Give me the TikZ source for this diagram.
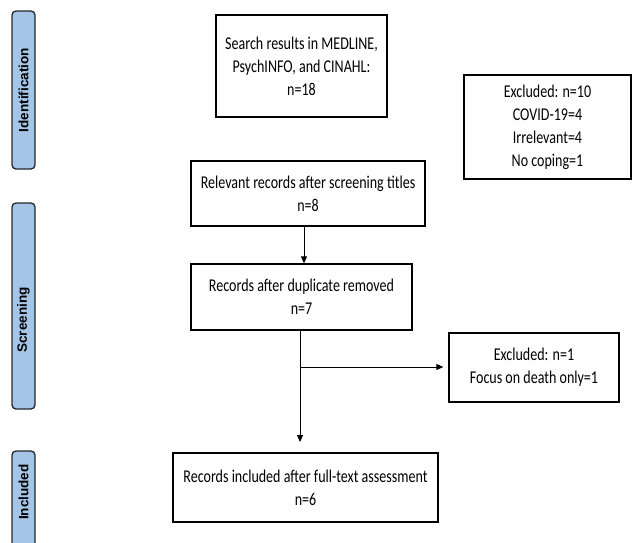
\documentclass[tikz,border=0pt]{standalone}
\usepackage{fontspec}
\setmainfont{Carlito}
\newfontfamily\boxfont[FakeStretch=0.78]{Carlito}
\newfontfamily\labelfont{Liberation Sans}
\usetikzlibrary{arrows.meta}
\definecolor{barblue}{RGB}{164,196,232}
\tikzset{
  flowbox/.style={draw=black, line width=1.3pt, rectangle, align=center, inner sep=0pt,
    font=\boxfont\fontsize{18}{23}\selectfont},
  phasebar/.style={draw=black!85, line width=1.3pt, fill=barblue, rounded corners=4pt},
  phaselabel/.style={rotate=90, font=\labelfont\bfseries\fontsize{13.5}{15}\selectfont},
  flowarrow/.style={line width=0.9pt, -{Triangle[width=6pt,length=7pt]}},
  flowline/.style={line width=0.9pt}
}
\begin{document}
\begin{tikzpicture}[x=1pt,y=-1pt]
\useasboundingbox (0,0) rectangle (632,542);
\clip (0,0) rectangle (632,542);
% phase bars
\draw[phasebar] (12,11) rectangle (35,169);
\node[phaselabel] (lid) at (23.5,90) {Identification};
\draw[phasebar] (12,203) rectangle (35,409);
\node[phaselabel] (lsc) at (23.5,320) {Screening};
\draw[phasebar] (12,451) rectangle (35,570);
\node[phaselabel] (lin) at (23.5,492) {Included};
% boxes
\node[flowbox, minimum width=171pt, minimum height=102pt] (search) at (301.5,66)
  {Search results in MEDLINE,\\PsychINFO, and CINAHL:\\n=18};
\node[flowbox, minimum width=167pt, minimum height=104pt] (exc10) at (547.5,127)
  {Excluded: n=10\\COVID-19=4\\Irrelevant=4\\No coping=1};
\node[flowbox, minimum width=234pt, minimum height=65pt] (relev) at (308,193.5)
  {Relevant records after screening titles\\n=8};
\node[flowbox, minimum width=221pt, minimum height=66pt] (dup) at (301.5,297)
  {Records after duplicate removed\\n=7};
\node[flowbox, minimum width=170pt, minimum height=69pt] (exc1) at (534,367.5)
  {Excluded: n=1\\Focus on death only=1};
\node[flowbox, minimum width=265pt, minimum height=69pt] (final) at (305.5,487.5)
  {Records included after full-text assessment\\n=6};
% connectors
\draw[flowarrow] (relev.south -| 304,0) -- (dup.north -| 304,0);
\coordinate (branch) at (300,367);
\coordinate (tip) at (300,442);
\draw[flowline] (dup.south -| 300,0) -- (branch);
\draw[flowarrow] (branch) -- (tip);
\draw[flowarrow, shorten >=5pt] (branch) -- (exc1.west |- branch);
\end{tikzpicture}
\end{document}
